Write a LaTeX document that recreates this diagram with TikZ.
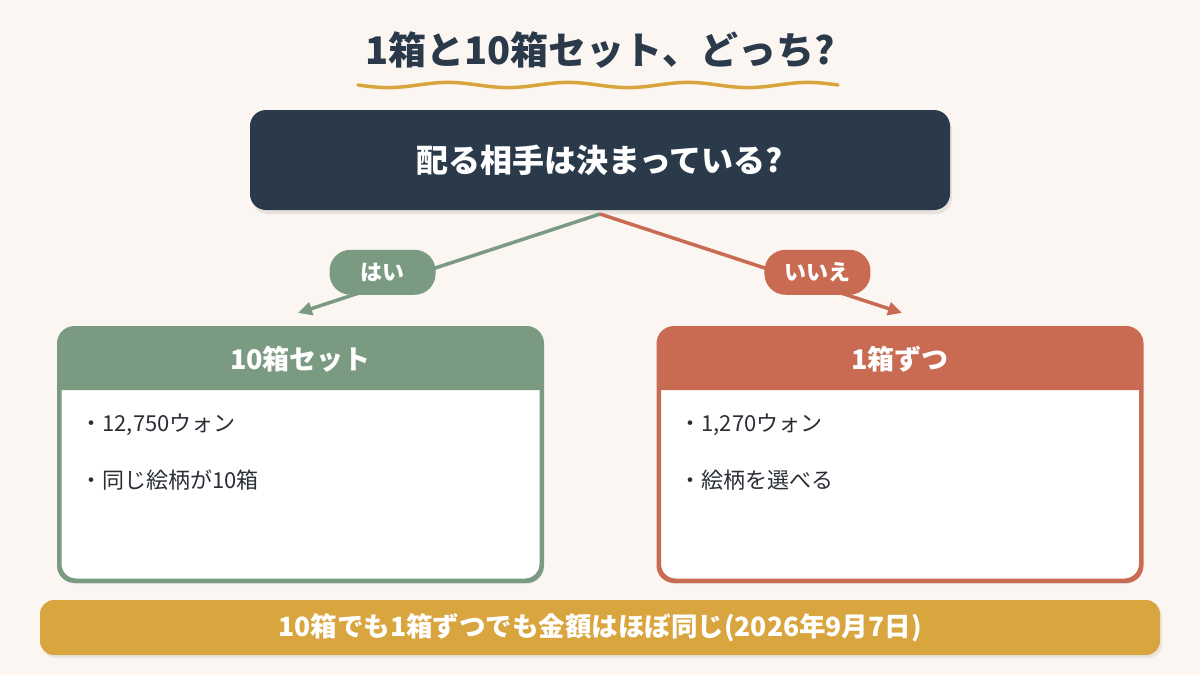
\documentclass[tikz,border=0pt]{standalone}
\usepackage{fontspec}
\setmainfont{Noto Sans CJK JP}
\usetikzlibrary{arrows.meta}
\definecolor{bg}{HTML}{FBF6F1}
\definecolor{navy}{HTML}{2B3A4B}
\definecolor{sage}{HTML}{7B9A82}
\definecolor{terra}{HTML}{C96B52}
\definecolor{gold}{HTML}{D9A53F}
\definecolor{ink}{HTML}{2A2F36}
\tikzset{
  pill/.style={rounded corners=21pt, minimum width=106pt, minimum height=45pt, inner sep=0pt, text=white, font=\bfseries\fontsize{22}{24}\selectfont},
  conn/.style={line width=3.5pt, -{Triangle[length=14pt,width=13pt]}},
  cardbody/.style={draw, line width=3pt, fill=white, rounded corners=16pt, minimum width=481pt, minimum height=251pt, inner sep=0pt},
  head/.style={text=white, font=\bfseries\fontsize{27}{29}\selectfont},
  item/.style={anchor=west, text=ink, font=\fontsize{22}{24}\selectfont},
  shadow/.style={fill=black, opacity=0.07, rounded corners=16pt}
}
\begin{document}
\begin{tikzpicture}[x=1pt,y=-1pt]
\useasboundingbox (0,0) rectangle (1200,675);
\fill[bg] (0,0) rectangle (1200,675);
% title
\node[text=navy, font=\bfseries\fontsize{38}{40}\selectfont] (title) at (600,50) {1箱と10箱セット、どっち?};
\draw[gold, line width=3.5pt, line cap=round] plot[domain=358:838, samples=120, smooth] (\x,{85+2.6*sin((\x-358)/480*4*360)});
% question
\fill[black, opacity=0.08, rounded corners=16pt] (252,114) rectangle (952,214);
\node[fill=navy, rounded corners=16pt, minimum width=700pt, minimum height=100pt, inner sep=0pt, text=white, font=\bfseries\fontsize{32}{34}\selectfont] (q) at (600,160) {配る相手は決まっている?};
% connectors
\coordinate (qs) at (600,214);
\coordinate (yesend) at (298,313);
\coordinate (noend) at (902,313);
\draw[conn, sage] (qs) -- (yesend) node[pill, fill=sage, pos=0.72, yshift=13pt] (yes) {はい};
\draw[conn, terra] (qs) -- (noend) node[pill, fill=terra, pos=0.72, yshift=13pt] (no) {いいえ};
% left card
\fill[shadow] (62,333) rectangle (543,584);
\node[cardbody, draw=sage] (L) at (300.5,454.5) {};
\fill[sage] (L.west |- 0,390) [rounded corners=16pt] -- (L.north west) -- (L.north east) [sharp corners] -- (L.east |- 0,390) -- cycle;
\draw[sage, line width=3pt, rounded corners=16pt] (L.south west) rectangle (L.north east);
\node[head] (Lh) at (300.5,359) {10箱セット};
\node[item] (L1) at (77,425) {・12,750ウォン};
\node[item] (L2) at (77,480) {・同じ絵柄が10箱};
% right card
\fill[shadow] (661,333) rectangle (1142,584);
\node[cardbody, draw=terra] (R) at (900,454.5) {};
\fill[terra] (R.west |- 0,390) [rounded corners=16pt] -- (R.north west) -- (R.north east) [sharp corners] -- (R.east |- 0,390) -- cycle;
\draw[terra, line width=3pt, rounded corners=16pt] (R.south west) rectangle (R.north east);
\node[head] (Rh) at (900,359) {1箱ずつ};
\node[item] (R1) at (676,425) {・1,270ウォン};
\node[item] (R2) at (676,480) {・絵柄を選べる};
% bottom bar
\fill[black, opacity=0.07, rounded corners=14pt] (42,603) rectangle (1162,658);
\node[fill=gold, rounded corners=14pt, minimum width=1120pt, minimum height=55pt, inner sep=0pt, text=white, font=\bfseries\fontsize{26.5}{28}\selectfont] (note) at (600,627.5) {10箱でも1箱ずつでも金額はほぼ同じ(2026年9月7日)};
\end{tikzpicture}
\end{document}
